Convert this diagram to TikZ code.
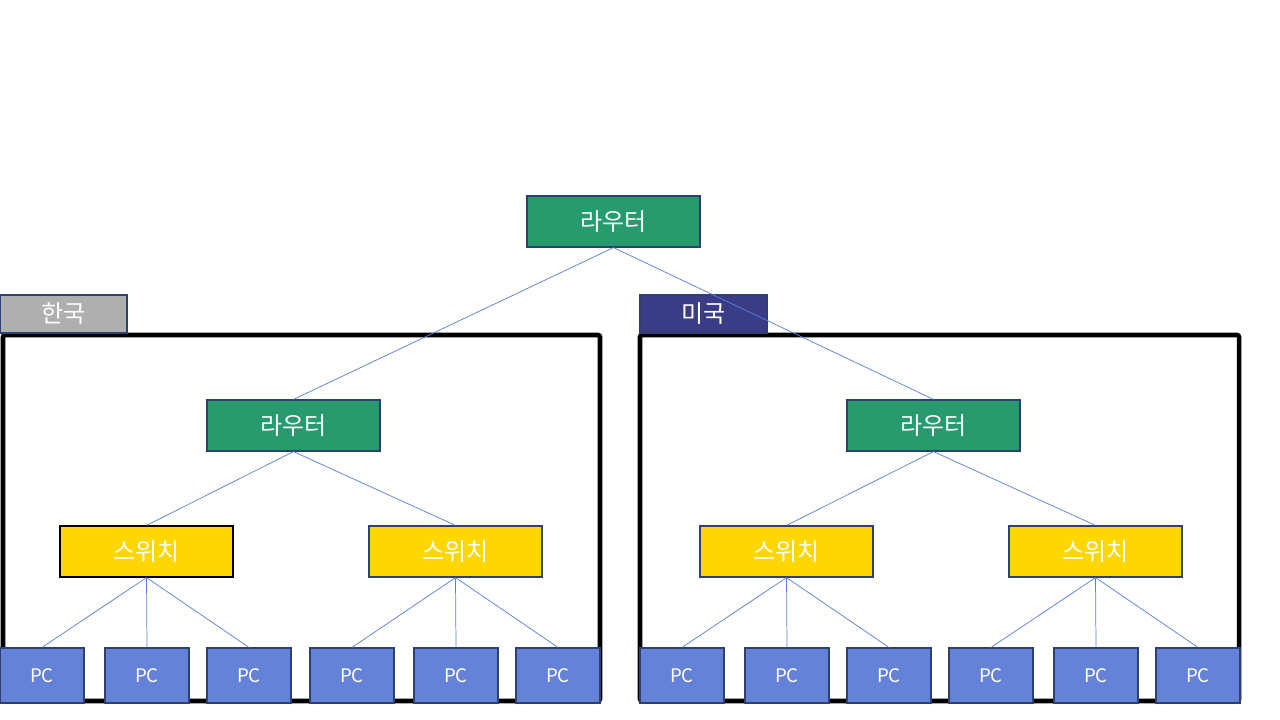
\documentclass[tikz,border=0pt]{standalone}
\usepackage{fontspec}
\setmainfont{Noto Sans CJK KR}
\usetikzlibrary{positioning}
\definecolor{routergreen}{HTML}{279B6D}
\definecolor{switchyellow}{HTML}{FFD700}
\definecolor{pcblue}{HTML}{6482D7}
\definecolor{boxnavy}{HTML}{2F3F6F}
\definecolor{linkblue}{HTML}{5B7FE0}
\definecolor{krgray}{HTML}{AFAFAF}
\definecolor{usnavy}{HTML}{3A3C85}

\tikzset{
  box/.style={draw=boxnavy, line width=0.9pt, text=white, inner sep=0pt},
  router/.style={box, fill=routergreen, minimum width=129.75pt, minimum height=38.25pt, font=\fontsize{18}{20}\selectfont},
  switchbox/.style={box, fill=switchyellow, minimum width=129.75pt, minimum height=38.25pt, font=\fontsize{18}{20}\selectfont},
  pc/.style={box, fill=pcblue, minimum width=63pt, minimum height=41.25pt, font=\fontsize{14}{16}\selectfont},
  tag/.style={box, minimum width=95.25pt, minimum height=28.5pt, font=\fontsize{18}{20}\selectfont},
  region/.style={draw=black, line width=3.4pt, rounded corners=1.5pt},
  link/.style={draw=linkblue, line width=0.55pt}
}

\begin{document}
\begin{tikzpicture}[x=0.75pt,y=-0.75pt]
\useasboundingbox (0,0) rectangle (1280,720);

% regions
\draw[region] (3,335) rectangle (600,701);
\draw[region] (640,335) rectangle (1239,701);
\node[tag, fill=krgray] (tagKR) at (63.5,314) {한국};
\node[tag, fill=usnavy] (tagUS) at (703.5,314) {미국};

% routers
\node[router] (r0) at (613.5,221.5) {라우터};
\node[router] (rKR) at (293.5,425.5) {라우터};
\node[router] (rUS) at (933.5,425.5) {라우터};
\draw[link] (r0.south) -- (rKR.north);
\draw[link] (r0.south) -- (rUS.north);

% switches
\foreach \x/\n/\r/\c in {146.5/s1/rKR/black, 455.5/s2/rKR/boxnavy, 786.5/s3/rUS/boxnavy, 1095.5/s4/rUS/boxnavy} {
  \node[switchbox, draw=\c] (\n) at (\x,551.5) {스위치};
  \draw[link] (\r.south) -- (\n.north);
}

% PCs
\foreach \x/\n/\s in {42/p1/s1, 147/p2/s1, 249/p3/s1, 352/p4/s2, 456/p5/s2, 558/p6/s2,
                      682/p7/s3, 787/p8/s3, 889/p9/s3, 991/p10/s4, 1096/p11/s4, 1198/p12/s4} {
  \node[pc] (\n) at (\x,675.5) {PC};
  \draw[link] (\s.south) -- (\n.north);
}

\end{tikzpicture}
\end{document}
